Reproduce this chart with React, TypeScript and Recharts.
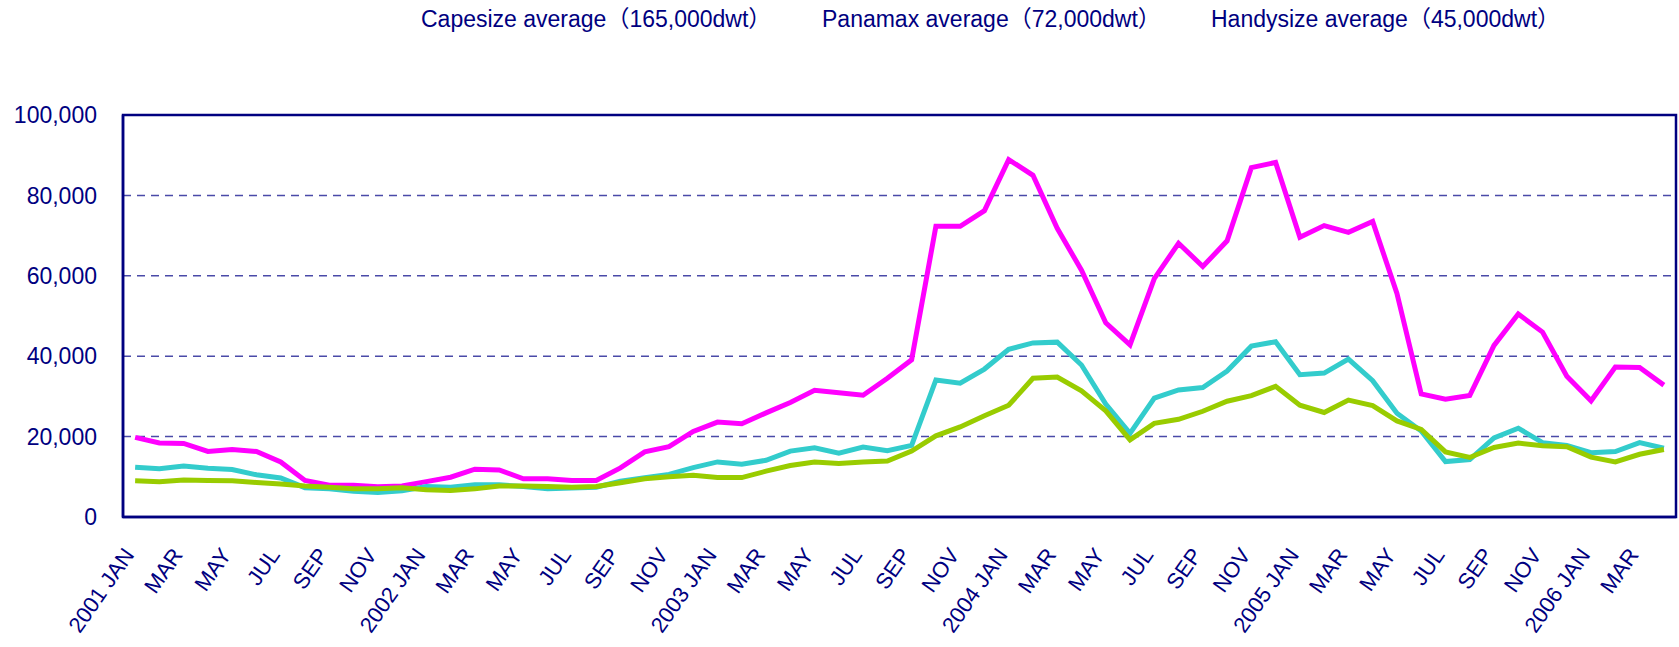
import { LineChart, Line, XAxis, YAxis, CartesianGrid, ReferenceArea } from 'recharts'

// monthly, 2001 JAN .. 2006 APR
const months = [
  '2001 JAN', 'FEB', 'MAR', 'APR', 'MAY', 'JUN', 'JUL', 'AUG', 'SEP', 'OCT', 'NOV', 'DEC',
  '2002 JAN', 'FEB', 'MAR', 'APR', 'MAY', 'JUN', 'JUL', 'AUG', 'SEP', 'OCT', 'NOV', 'DEC',
  '2003 JAN', 'FEB', 'MAR', 'APR', 'MAY', 'JUN', 'JUL', 'AUG', 'SEP', 'OCT', 'NOV', 'DEC',
  '2004 JAN', 'FEB', 'MAR', 'APR', 'MAY', 'JUN', 'JUL', 'AUG', 'SEP', 'OCT', 'NOV', 'DEC',
  '2005 JAN', 'FEB', 'MAR', 'APR', 'MAY', 'JUN', 'JUL', 'AUG', 'SEP', 'OCT', 'NOV', 'DEC',
  '2006 JAN', 'FEB', 'MAR', 'APR',
]

const capesize = [
  19800, 18400, 18300, 16300, 16800, 16300, 13700, 9100, 7900, 7900, 7500, 7700,
  8800, 9900, 11900, 11700, 9500, 9500, 9100, 9100, 12200, 16200, 17500, 21300,
  23600, 23200, 25900, 28500, 31500, 30900, 30300, 34500, 39100, 72300, 72300, 76200,
  88900, 85000, 71800, 61400, 48300, 42800, 59300, 68100, 62300, 68700, 86900, 88200,
  69600, 72500, 70800, 73500, 55600, 30600, 29300, 30200, 42700, 50500, 46000, 35000,
  28900, 37300, 37200, 32800,
]

const panamax = [
  12400, 12000, 12700, 12100, 11800, 10500, 9700, 7300, 7000, 6400, 6100, 6500,
  7600, 7400, 8000, 8000, 7600, 7000, 7200, 7400, 8900, 9800, 10600, 12300,
  13700, 13100, 14100, 16400, 17200, 15900, 17400, 16500, 17800, 34100, 33300, 36800,
  41700, 43300, 43500, 37800, 28100, 20800, 29600, 31600, 32200, 36300, 42500, 43600,
  35400, 35800, 39300, 33900, 25800, 21400, 13800, 14300, 19700, 22100, 18500, 17800,
  16000, 16300, 18500, 17100,
]

const handysize = [
  9000, 8800, 9200, 9100, 9000, 8600, 8200, 7700, 7400, 7000, 7000, 7300,
  6800, 6600, 7000, 7700, 7700, 7600, 7400, 7600, 8500, 9500, 10000, 10400,
  9800, 9800, 11400, 12800, 13700, 13300, 13700, 13900, 16400, 20200, 22400, 25200,
  27800, 34500, 34800, 31400, 26400, 19200, 23300, 24300, 26300, 28800, 30200, 32500,
  27800, 26000, 29100, 27700, 23900, 21800, 16200, 14800, 17300, 18400, 17700, 17500,
  14900, 13700, 15600, 16800,
]

const seriesNames = [
  'Capesize average（165,000dwt）',
  'Panamax average（72,000dwt）',
  'Handysize average（45,000dwt）',
]

const yTicks = [0, 20000, 40000, 60000, 80000, 100000]

const data = months.map((m, i) => ({
  idx: i,
  month: m,
  cape: capesize[i],
  pana: panamax[i],
  handy: handysize[i],
}))

// every other month gets a label
const xTicks = data.filter((d) => d.idx % 2 === 0).map((d) => d.idx)

const NAVY = '#000080'
const FONT = '"Liberation Sans", Arial, "Noto Sans CJK JP", sans-serif'

function MonthTick(props: any) {
  const { x, y, payload } = props
  return (
    <g transform={`translate(${x}, ${y + 8}) rotate(-55)`}>
      <text x={0} y={0} textAnchor="end" fill={NAVY} fontSize={22} fontFamily={FONT}>
        {months[payload.value]}
      </text>
    </g>
  )
}

const legendLeft = [421, 822, 1211]

export default function App() {
  return (
    <div style={{ position: 'absolute', left: 0, top: 0, width: 1679, height: 647, background: '#fff' }}>
      {seriesNames.map((n, i) => (
        <span
          key={n}
          style={{
            position: 'absolute',
            left: legendLeft[i],
            top: 6,
            fontFamily: FONT,
            fontSize: 23,
            lineHeight: '26px',
            color: NAVY,
            whiteSpace: 'nowrap',
          }}
        >
          {n}
        </span>
      ))}
      <LineChart
        width={1679}
        height={647}
        data={data}
        margin={{ top: 115, right: 3, bottom: 0, left: 0 }}
      >
        <CartesianGrid vertical={false} stroke="#4a4aa8" strokeDasharray="8 6" strokeWidth={1.5} />
        <XAxis
          dataKey="idx"
          type="number"
          domain={[-0.5, months.length - 0.5]}
          ticks={xTicks}
          interval={0}
          height={130}
          tickLine={false}
          tickSize={30}
          tickMargin={0}
          tick={<MonthTick />}
          axisLine={{ stroke: NAVY, strokeWidth: 2.5 }}
        />
        <YAxis
          width={123}
          domain={[0, 100000]}
          ticks={yTicks}
          tickLine={false}
          tickSize={20}
          tickMargin={6}
          tickFormatter={(v: number) => v.toLocaleString('en-US')}
          tick={{ fill: NAVY, fontSize: 23, fontFamily: FONT }}
          axisLine={{ stroke: NAVY, strokeWidth: 2.5 }}
        />
        <Line type="linear" dataKey="cape" name={seriesNames[0]} stroke="#ff00ff" strokeWidth={5} dot={false} isAnimationActive={false} />
        <Line type="linear" dataKey="pana" name={seriesNames[1]} stroke="#33cccc" strokeWidth={5} dot={false} isAnimationActive={false} />
        <Line type="linear" dataKey="handy" name={seriesNames[2]} stroke="#99cc00" strokeWidth={5} dot={false} isAnimationActive={false} />
        <ReferenceArea y1={0} y2={100000} fill="none" fillOpacity={0} stroke={NAVY} strokeWidth={2.5} />
      </LineChart>
    </div>
  )
}
